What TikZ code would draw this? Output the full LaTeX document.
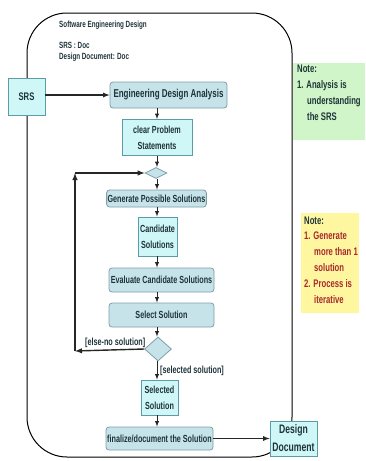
\documentclass[tikz,border=0pt]{standalone}
\usepackage{fontspec}
\setmainfont{Liberation Sans}
\newfontfamily\narrowfont[FakeStretch=0.7]{Liberation Sans}
\usetikzlibrary{shapes.geometric}
\definecolor{actfill}{HTML}{C6E3EA}
\definecolor{actline}{HTML}{7E9EA6}
\definecolor{objfill}{HTML}{CFF7F8}
\definecolor{objline}{HTML}{5C9CA6}
\definecolor{inkc}{HTML}{1E3338}
\definecolor{notegreen}{HTML}{CFF5C8}
\definecolor{noteyellow}{HTML}{FFF7A0}
\definecolor{notered}{HTML}{A8282A}
\tikzset{
	act/.style={draw=actline, fill=actfill, rounded corners=3pt, line width=0.8pt, text=inkc, font=\narrowfont\bfseries\fontsize{10.3}{15}\selectfont, align=center, inner sep=1pt},
	obj/.style={draw=objline, fill=objfill, line width=0.8pt, text=inkc, font=\narrowfont\bfseries\fontsize{10.3}{16}\selectfont, align=center, inner sep=1pt},
	dec/.style={diamond, draw=actline, fill=actfill, line width=0.8pt, inner sep=0pt, aspect=2},
	flow/.style={->, >=latex, line width=0.9pt, draw=black!85},
	guard/.style={font=\narrowfont\bfseries\fontsize{10.3}{11}\selectfont, text=inkc, inner sep=0pt},
	note/.style={anchor=north west, align=left, font=\narrowfont\bfseries\fontsize{11}{16}\selectfont, inner sep=0pt}
}
\begin{document}
\begin{tikzpicture}[x=1pt, y=-1pt]
		\useasboundingbox (0,0) rectangle (365,461);
		% frame of the design activity
		\draw[line width=1pt, rounded corners=40pt] (27,13) rectangle (292,457);
		\node[anchor=west, font=\narrowfont\bfseries\fontsize{9}{10}\selectfont, text=inkc, inner sep=0pt] (title) at (59,25) {Software Engineering Design};
		\node[anchor=north west, align=left, font=\narrowfont\bfseries\fontsize{9}{11}\selectfont, text=inkc, inner sep=0pt] (types) at (59,42) {SRS : Doc\\Design Document: Doc};
		% notes
		\fill[notegreen] (293,63) rectangle (365,140);
		\node[note, text=inkc] (note1) at (297,65) {Note:\\1. Analysis is\\\hspace*{10pt}understanding\\\hspace*{10pt}the SRS};
		\fill[noteyellow] (301,213) rectangle (359,313);
		\node[note, text=inkc] (note2a) at (304,217) {Note:};
		\node[note, text=notered] (note2b) at (304,232) {1. Generate\\\hspace*{10pt}more than 1\\\hspace*{10pt}solution\\2. Process is\\\hspace*{10pt}iterative};
		% objects and activities
		\node[obj, minimum width=37pt, minimum height=37pt, font=\narrowfont\bfseries\fontsize{11}{12}\selectfont] (srs) at (26.5,96.5) {SRS};
		\node[act, minimum width=117pt, minimum height=26pt, font=\narrowfont\bfseries\fontsize{11.4}{12}\selectfont] (eda) at (168.5,95) {Engineering Design Analysis};
		\node[obj, minimum width=70pt, minimum height=36pt] (cps) at (157,137.5) {clear Problem\\Statements};
		\node[dec, minimum width=22pt, minimum height=11pt] (d1) at (156,173) {};
		\node[act, minimum width=95pt, minimum height=17pt] (gps) at (156.5,198.5) {Generate Possible Solutions};
		\node[obj, minimum width=39pt, minimum height=39pt] (cand) at (157.5,236.5) {Candidate\\Solutions};
		\node[act, minimum width=105pt, minimum height=24pt] (ecs) at (161.5,280) {Evaluate Candidate Solutions};
		\node[act, minimum width=105pt, minimum height=24pt] (sel) at (161.5,315) {Select Solution};
		\node[dec, minimum width=27pt, minimum height=24pt, aspect=1.1] (d2) at (158,349) {};
		\node[obj, minimum width=37pt, minimum height=35pt] (ssol) at (159.5,397.5) {Selected\\Solution};
		\node[act, minimum width=107pt, minimum height=23pt] (fin) at (159.5,438.5) {finalize/document the Solution};
		\node[obj, minimum width=47pt, minimum height=35pt, font=\narrowfont\bfseries\fontsize{12.3}{18}\selectfont] (dd) at (293.5,438.5) {Design\\Document};
		% loop back
		\coordinate (lb) at (75,351);
		\coordinate (lt) at (75,173);
		% flows
		\draw[flow, line width=1.2pt] (srs.east |- eda) -- (eda.west);
		\draw[flow] (eda.south -| cps) -- (cps.north);
		\draw[flow] (cps.south) -- (d1.north -| cps);
		\draw[flow] (d1.south -| cps) -- (gps.north -| cps);
		\draw[flow] (gps.south -| cps) -- (cand.north -| cps);
		\draw[flow] (cand.south -| cps) -- (ecs.north -| cps);
		\draw[flow] (ecs.south -| cps) -- (sel.north -| cps);
		\draw[flow] (sel.south -| cps) -- (d2.north -| cps);
		\draw[flow] (d2.south -| cps) -- (ssol.north -| cps);
		\draw[flow] (ssol.south -| cps) -- (fin.north -| cps);
		\draw[flow, line width=1.2pt] (fin.east) -- (dd.west);
		\draw[flow, line width=1.4pt] (d2.west) -- (lb);
		\draw[flow, line width=1.4pt] (lb) -- (lt);
		\draw[flow, line width=1.4pt] (lt) -- (d1.west);
		% guards
		\node[guard, anchor=south west] (g1) at (85,348) {[else-no solution]};
		\node[guard, anchor=west] (g2) at (160,371) {[selected solution]};
\end{tikzpicture}
\end{document}
